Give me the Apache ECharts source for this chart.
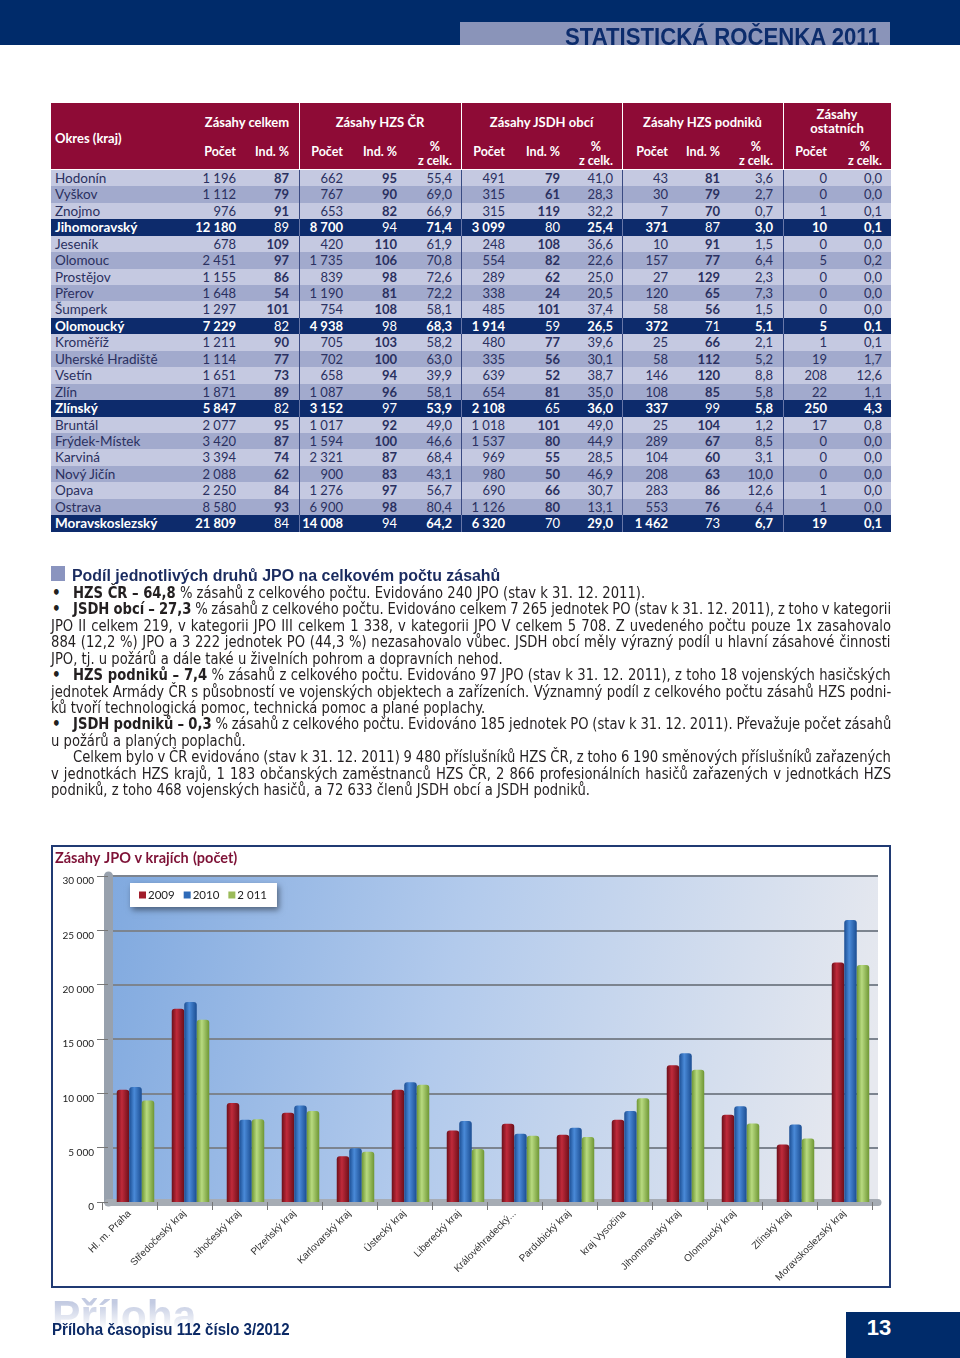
<!DOCTYPE html>
<html><head><meta charset="utf-8">
<script src="https://cdn.jsdelivr.net/npm/echarts@6/dist/echarts.min.js"></script>
<style>
body{margin:0;width:960px;height:1358px;position:relative;background:#fff;overflow:hidden;font-family:Lato,"Open Sans",sans-serif;}
.a{position:absolute;white-space:nowrap;}
.fit{display:inline-block;white-space:nowrap;transform-origin:0 50%;}
.cell{position:absolute;text-align:right;width:80px;font-size:13px;}
.hd{position:absolute;color:#fff;font-weight:bold;font-size:13px;line-height:14px;text-align:center;}
.tl{position:absolute;height:16.45px;line-height:16.45px;font-family:"Liberation Sans Narrow","DejaVu Sans Condensed","Liberation Sans",sans-serif;font-size:15px;color:#231f20;white-space:nowrap;}
.tl span.in{display:inline-block;transform-origin:0 50%;white-space:nowrap;}
</style>
</head><body>
<div class="a" style="left:0;top:0;width:960px;height:45px;background:#002b6a"></div>
<div class="a" style="left:460px;top:22px;width:430px;height:23px;background:#8a94b9"></div>
<div class="a" style="left:565px;top:26px;height:23px;line-height:23px;font-family:'Liberation Sans',sans-serif;font-weight:bold;font-size:23px;color:#0c2c6c"><span class="fit" data-w="315">STATISTICKÁ ROČENKA 2011</span></div>

<div id="table"></div>

<div class="a" style="left:51px;top:566px;width:14px;height:15px;background:#8a94bf"></div>
<div class="a" style="left:72px;top:566px;height:20px;line-height:20px;font-family:'Liberation Sans',sans-serif;font-weight:bold;font-size:16px;color:#1a2b5f"><span class="fit" data-w="428">Podíl jednotlivých druhů JPO na celkovém počtu zásahů</span></div>
<div id="text"></div>

<div id="chart" style="position:absolute;left:51px;top:845px;width:840px;height:443px;border:2px solid #203a73;box-sizing:border-box;"></div>

<div class="a" style="left:52px;top:1294px;height:44px;line-height:44px;font-family:'Liberation Sans',sans-serif;font-weight:bold;font-size:42px;"><span class="fit" data-w="144" style="background:linear-gradient(#c3cbe2 20%,#ffffff 80%);-webkit-background-clip:text;background-clip:text;color:transparent;">Příloha</span></div>
<div class="a" style="left:52px;top:1320px;height:20px;line-height:20px;font-family:'Liberation Sans',sans-serif;font-weight:bold;font-size:16px;color:#0c2a66"><span class="fit" data-w="238">Příloha časopisu 112 číslo 3/2012</span></div>
<div class="a" style="left:846px;top:1312px;width:114px;height:46px;background:#002b6a"></div>
<div class="a" style="left:846px;top:1315px;width:66px;height:26px;line-height:26px;text-align:center;color:#fff;font-family:'Liberation Sans',sans-serif;font-weight:bold;font-size:22px">13</div>

<script>
// ---------- table data ----------
const okresy = ["Hodonín","Vyškov","Znojmo","Jihomoravský","Jeseník","Olomouc","Prostějov","Přerov","Šumperk","Olomoucký","Kroměříž","Uherské Hradiště","Vsetín","Zlín","Zlínský","Bruntál","Frýdek-Místek","Karviná","Nový Jičín","Opava","Ostrava","Moravskoslezský"];
const krajRows = [3, 9, 14, 21];
const celkemPocet = ["1 196","1 112","976","12 180","678","2 451","1 155","1 648","1 297","7 229","1 211","1 114","1 651","1 871","5 847","2 077","3 420","3 394","2 088","2 250","8 580","21 809"];
const celkemInd = [87,79,91,89,109,97,86,54,101,82,90,77,73,89,82,95,87,74,62,84,93,84];
const hzsPocet = ["662","767","653","8 700","420","1 735","839","1 190","754","4 938","705","702","658","1 087","3 152","1 017","1 594","2 321","900","1 276","6 900","14 008"];
const hzsInd = [95,90,82,94,110,106,98,81,108,98,103,100,94,96,97,92,100,87,83,97,98,94];
const hzsPct = ["55,4","69,0","66,9","71,4","61,9","70,8","72,6","72,2","58,1","68,3","58,2","63,0","39,9","58,1","53,9","49,0","46,6","68,4","43,1","56,7","80,4","64,2"];
const jsdhPocet = ["491","315","315","3 099","248","554","289","338","485","1 914","480","335","639","654","2 108","1 018","1 537","969","980","690","1 126","6 320"];
const jsdhInd = [79,61,119,80,108,82,62,24,101,59,77,56,52,81,65,101,80,55,50,66,80,70];
const jsdhPct = ["41,0","28,3","32,2","25,4","36,6","22,6","25,0","20,5","37,4","26,5","39,6","30,1","38,7","35,0","36,0","49,0","44,9","28,5","46,9","30,7","13,1","29,0"];
const podPocet = ["43","30","7","371","10","157","27","120","58","372","25","58","146","108","337","25","289","104","208","283","553","1 462"];
const podInd = [81,79,70,87,91,77,129,65,56,71,66,112,120,85,99,104,67,60,63,86,76,73];
const podPct = ["3,6","2,7","0,7","3,0","1,5","6,4","2,3","7,3","1,5","5,1","2,1","5,2","8,8","5,8","5,8","1,2","8,5","3,1","10,0","12,6","6,4","6,7"];
const ostPocet = [0,0,1,10,0,5,0,0,0,5,1,19,208,22,250,17,0,0,0,1,1,19];
const ostPct = ["0,0","0,0","0,1","0,1","0,0","0,2","0,0","0,0","0,0","0,1","0,1","1,7","12,6","1,1","4,3","0,8","0,0","0,0","0,0","0,0","0,0","0,1"];
const groupTitles = ["Zásahy celkem","Zásahy HZS ČR","Zásahy JSDH obcí","Zásahy HZS podniků","Zásahy<br>ostatních"];
const subTitles = ["Počet","Ind. %","Počet","Ind. %","%<br>z celk.","Počet","Ind. %","%<br>z celk.","Počet","Ind. %","%<br>z celk.","Počet","%<br>z celk."];

// ---------- chart data ----------
const kraje = ["Hl. m. Praha","Středočeský kraj","Jihočeský kraj","Plzeňský kraj","Karlovarský kraj","Ústecký kraj","Liberecký kraj","Královéhradecký...","Pardubický kraj","kraj Vysočina","Jihomoravský kraj","Olomoucký kraj","Zlínský kraj","Moravskoslezský kraj"];
const roky = ["2009","2010","2 011"];
const v2009 = [10340,17790,9110,8220,4200,10340,6590,7210,6200,7580,12580,8040,5280,22050];
const v2010 = [10580,18400,7580,8890,4940,11010,7450,6290,6840,8370,13690,8820,7130,25960];
const v2011 = [9350,16780,7610,8370,4630,10800,4880,6100,5980,9540,12180,7229,5847,21809];
const yTicks = [0,5000,10000,15000,20000,25000,30000];

// ---------- build table ----------
(function(){
  const T = document.getElementById('table');
  let h = '';
  const L = 51, R = 891, top = 103, hh = 66, rowTop = 169.8, rh = 16.45;
  const seps = [299,461,622,783];
  const colRight = [236,289,343,397,452,505,560,613,668,720,773,827,882];
  const cols = [celkemPocet,celkemInd,hzsPocet,hzsInd,hzsPct,jsdhPocet,jsdhInd,jsdhPct,podPocet,podInd,podPct,ostPocet,ostPct];
  const indCols = [1,3,6,9];
  h += `<div class="a" style="left:${L}px;top:${top}px;width:${R-L}px;height:${hh}px;background:#8e0b36"></div>`;
  seps.forEach(x=>{ h += `<div class="a" style="left:${x}px;top:${top}px;width:1px;height:${hh}px;background:#fff"></div>`; });
  h += `<div class="hd" style="left:55px;top:131px;text-align:left">Okres (kraj)</div>`;
  const gx = [[195,299],[299,461],[461,622],[622,783],[783,891]];
  groupTitles.forEach((t,i)=>{
    const y = i===4 ? 107 : 115;
    h += `<div class="hd" style="left:${gx[i][0]}px;width:${gx[i][1]-gx[i][0]}px;top:${y}px">${t}</div>`;
  });
  subTitles.forEach((t,i)=>{
    const two = t.indexOf('<br>')>=0;
    h += `<div class="hd" style="left:${colRight[i]-80}px;width:80px;text-align:right;top:${two?140:145}px;font-size:12.5px"><span style="display:inline-block;text-align:center">${t}</span></div>`;
  });
  let k = 0;
  okresy.forEach((name,r)=>{
    const isKraj = krajRows.indexOf(r)>=0;
    const y = rowTop + r*rh;
    const bg = isKraj ? '#0d2b6c' : (k%2===0 ? '#c5c9e1' : '#a2aacd');
    k = isKraj ? 0 : k+1;
    const col = isKraj ? '#fff' : '#2a3060';
    h += `<div class="a" style="left:${L}px;top:${y}px;width:${R-L}px;height:${rh+0.3}px;background:${bg}"></div>`;
    seps.forEach(x=>{ h += `<div class="a" style="left:${x}px;top:${y}px;width:1px;height:${rh+0.3}px;background:${isKraj?'#6877a8':'#3a4a82'}"></div>`; });
    h += `<div class="a" style="left:55px;top:${y}px;line-height:${rh}px;font-size:13.5px;color:${col};font-weight:${isKraj?'bold':'normal'}">${name}</div>`;
    cols.forEach((arr,c)=>{
      const isInd = indCols.indexOf(c)>=0;
      const bold = isKraj ? !isInd : isInd;
      h += `<div class="cell" style="left:${colRight[c]-80}px;top:${y}px;line-height:${rh}px;color:${col};font-weight:${bold?'bold':'normal'}">${arr[r]}</div>`;
    });
  });
  T.innerHTML = h;
})();

// ---------- text block ----------
const textLines = [
  {x:73, b:true, j:false, t:'<b>HZS ČR – 64,8</b> % zásahů z celkového počtu. Evidováno 240 JPO (stav k 31. 12. 2011).'},
  {x:73, b:true, j:true, t:'<b>JSDH obcí – 27,3</b> % zásahů z celkového počtu. Evidováno celkem 7 265 jednotek PO (stav k 31. 12. 2011), z toho v kategorii'},
  {x:51, j:true, t:'JPO II celkem 219, v kategorii JPO III celkem 1 338, v kategorii JPO V celkem 5 708. Z uvedeného počtu pouze 1x zasahovalo'},
  {x:51, j:true, t:'884 (12,2 %) JPO a 3 222 jednotek PO (44,3 %) nezasahovalo vůbec. JSDH obcí měly výrazný podíl u hlavní zásahové činnosti'},
  {x:51, j:false, t:'JPO, tj. u požárů a dále také u živelních pohrom a dopravních nehod.'},
  {x:73, b:true, j:true, t:'<b>HZS podniků – 7,4</b> % zásahů z celkového počtu. Evidováno 97 JPO (stav k 31. 12. 2011), z toho 18 vojenských hasičských'},
  {x:51, j:true, t:'jednotek Armády ČR s působností ve vojenských objektech a zařízeních. Významný podíl z celkového počtu zásahů HZS podni-'},
  {x:51, j:false, t:'ků tvoří technologická pomoc, technická pomoc a plané poplachy.'},
  {x:73, b:true, j:true, t:'<b>JSDH podniků – 0,3</b> % zásahů z celkového počtu. Evidováno 185 jednotek PO (stav k 31. 12. 2011). Převažuje počet zásahů'},
  {x:51, j:false, t:'u požárů a planých poplachů.'},
  {x:73, j:true, t:'Celkem bylo v ČR evidováno (stav k 31. 12. 2011) 9 480 příslušníků HZS ČR, z toho 6 190 směnových příslušníků zařazených'},
  {x:51, j:true, t:'v jednotkách HZS krajů, 1 183 občanských zaměstnanců HZS ČR, 2 866 profesionálních hasičů zařazených v jednotkách HZS'},
  {x:51, j:false, t:'podniků, z toho 468 vojenských hasičů, a 72 633 členů JSDH obcí a JSDH podniků.'}
];
(function(){
  const C = document.getElementById('text');
  let h = '';
  textLines.forEach((l,i)=>{
    const y = 584.8 + i*16.45;
    if (l.b) h += `<div class="tl" style="left:52px;top:${y}px;font-weight:bold">•</div>`;
    h += `<div class="tl" style="left:${l.x}px;top:${y}px"><span class="in">${l.t}</span></div>`;
  });
  C.innerHTML = h;
})();

function layoutText(){
  document.querySelectorAll('.fit').forEach(el=>{
    const w = el.offsetWidth; const W = +el.dataset.w;
    el.style.transform = `scaleX(${W/w})`;
  });
  const spans = Array.from(document.querySelectorAll('#text .tl span.in'));
  const s = 572 / spans[0].offsetWidth;
  spans.forEach((sp,i)=>{
    const l = textLines[i];
    const w = sp.offsetWidth;
    if (l.j) {
      const W = (891 - l.x) / s;
      const n = (sp.textContent.match(/ /g)||[]).length;
      sp.style.wordSpacing = ((W - w)/n) + 'px';
    }
    sp.style.transform = `scaleX(${s})`;
  });
}
layoutText();

// ---------- chart ----------
function cyl(dark, light){
  return new echarts.graphic.LinearGradient(0,0,1,0,[{offset:0,color:dark},{offset:0.4,color:light},{offset:1,color:dark}]);
}
const chart = echarts.init(document.getElementById('chart'), null, {renderer:'canvas'});
const fmt = v => String(v).replace(/\B(?=(\d{3})+(?!\d))/g,' ');
const serCols = [['#6c0f1a','#c02a3a','#a11d2b'],['#1b4d92','#4a8ad8','#2e6ab8'],['#6e9634','#b8da80','#9bbb59']];
const vals = [v2009, v2010, v2011];
chart.setOption({
  animation:false,
  textStyle:{fontFamily:'Lato, "Open Sans", sans-serif'},
  title:{
    text:'{b|Zásahy JPO v krajích} {n|(počet)}', left:0, top:0, padding:[2,0,0,2],
    textStyle:{rich:{b:{fontWeight:'bold',fontSize:14.5,color:'#7e1237',fontFamily:'Lato'},n:{fontSize:14.5,color:'#7e1237',fontFamily:'Lato'}}}
  },
  legend:{
    left:77, top:36, itemWidth:7, itemHeight:7, itemGap:9,
    padding:[6,10,6,9], backgroundColor:'#fff',
    shadowBlur:6, shadowColor:'rgba(0,0,0,0.45)', shadowOffsetX:2, shadowOffsetY:3,
    textStyle:{fontSize:11.5,color:'#222',padding:[0,0,0,-3]},
    data: roky.map((r,i)=>({name:r, icon:'rect', itemStyle:{color:serCols[i][2]}}))
  },
  grid:[
    {left:55, right:11, top:29, bottom:84, show:true, borderWidth:0,
     backgroundColor:new echarts.graphic.LinearGradient(0,0,1,0.5,[{offset:0,color:'#80a9df'},{offset:0.45,color:'#b2caec'},{offset:1,color:'#e7e9ef'}])},
    {left:49, right:17, top:29, bottom:84}
  ],
  xAxis:[
    {type:'category', gridIndex:0, data:kraje, axisLabel:{show:false}, axisTick:{show:false},
     axisLine:{lineStyle:{color:'#a6acb4', width:7}}},
    {type:'category', gridIndex:1, data:kraje, axisLine:{show:false},
     axisTick:{show:true, length:8, lineStyle:{color:'#777'}},
     axisLabel:{rotate:45, interval:0, margin:10, fontSize:10, color:'#333', fontFamily:'"Liberation Sans", sans-serif'}}
  ],
  yAxis:[
    {type:'value', gridIndex:0, min:0, max:30000, interval:5000,
     axisLine:{show:true, lineStyle:{color:'#98a1ad', width:9}},
     axisTick:{show:true, length:11, lineStyle:{color:'#777'}},
     splitLine:{lineStyle:{color:'#7c848f', width:2}},
     axisLabel:{margin:14, fontSize:10, color:'#222', verticalAlign:'top', lineHeight:10, formatter:v=>fmt(v)}},
    {type:'value', gridIndex:1, show:false, min:0, max:30000}
  ],
  series: roky.map((r,i)=>({
    name:r, type:'bar', xAxisIndex:0, yAxisIndex:0, data:vals[i],
    barWidth:12.5, barGap:'0%',
    itemStyle:{color:cyl(serCols[i][0], serCols[i][1]), borderRadius:[3,3,0,0]}
  }))
});
</script>
</body></html>
